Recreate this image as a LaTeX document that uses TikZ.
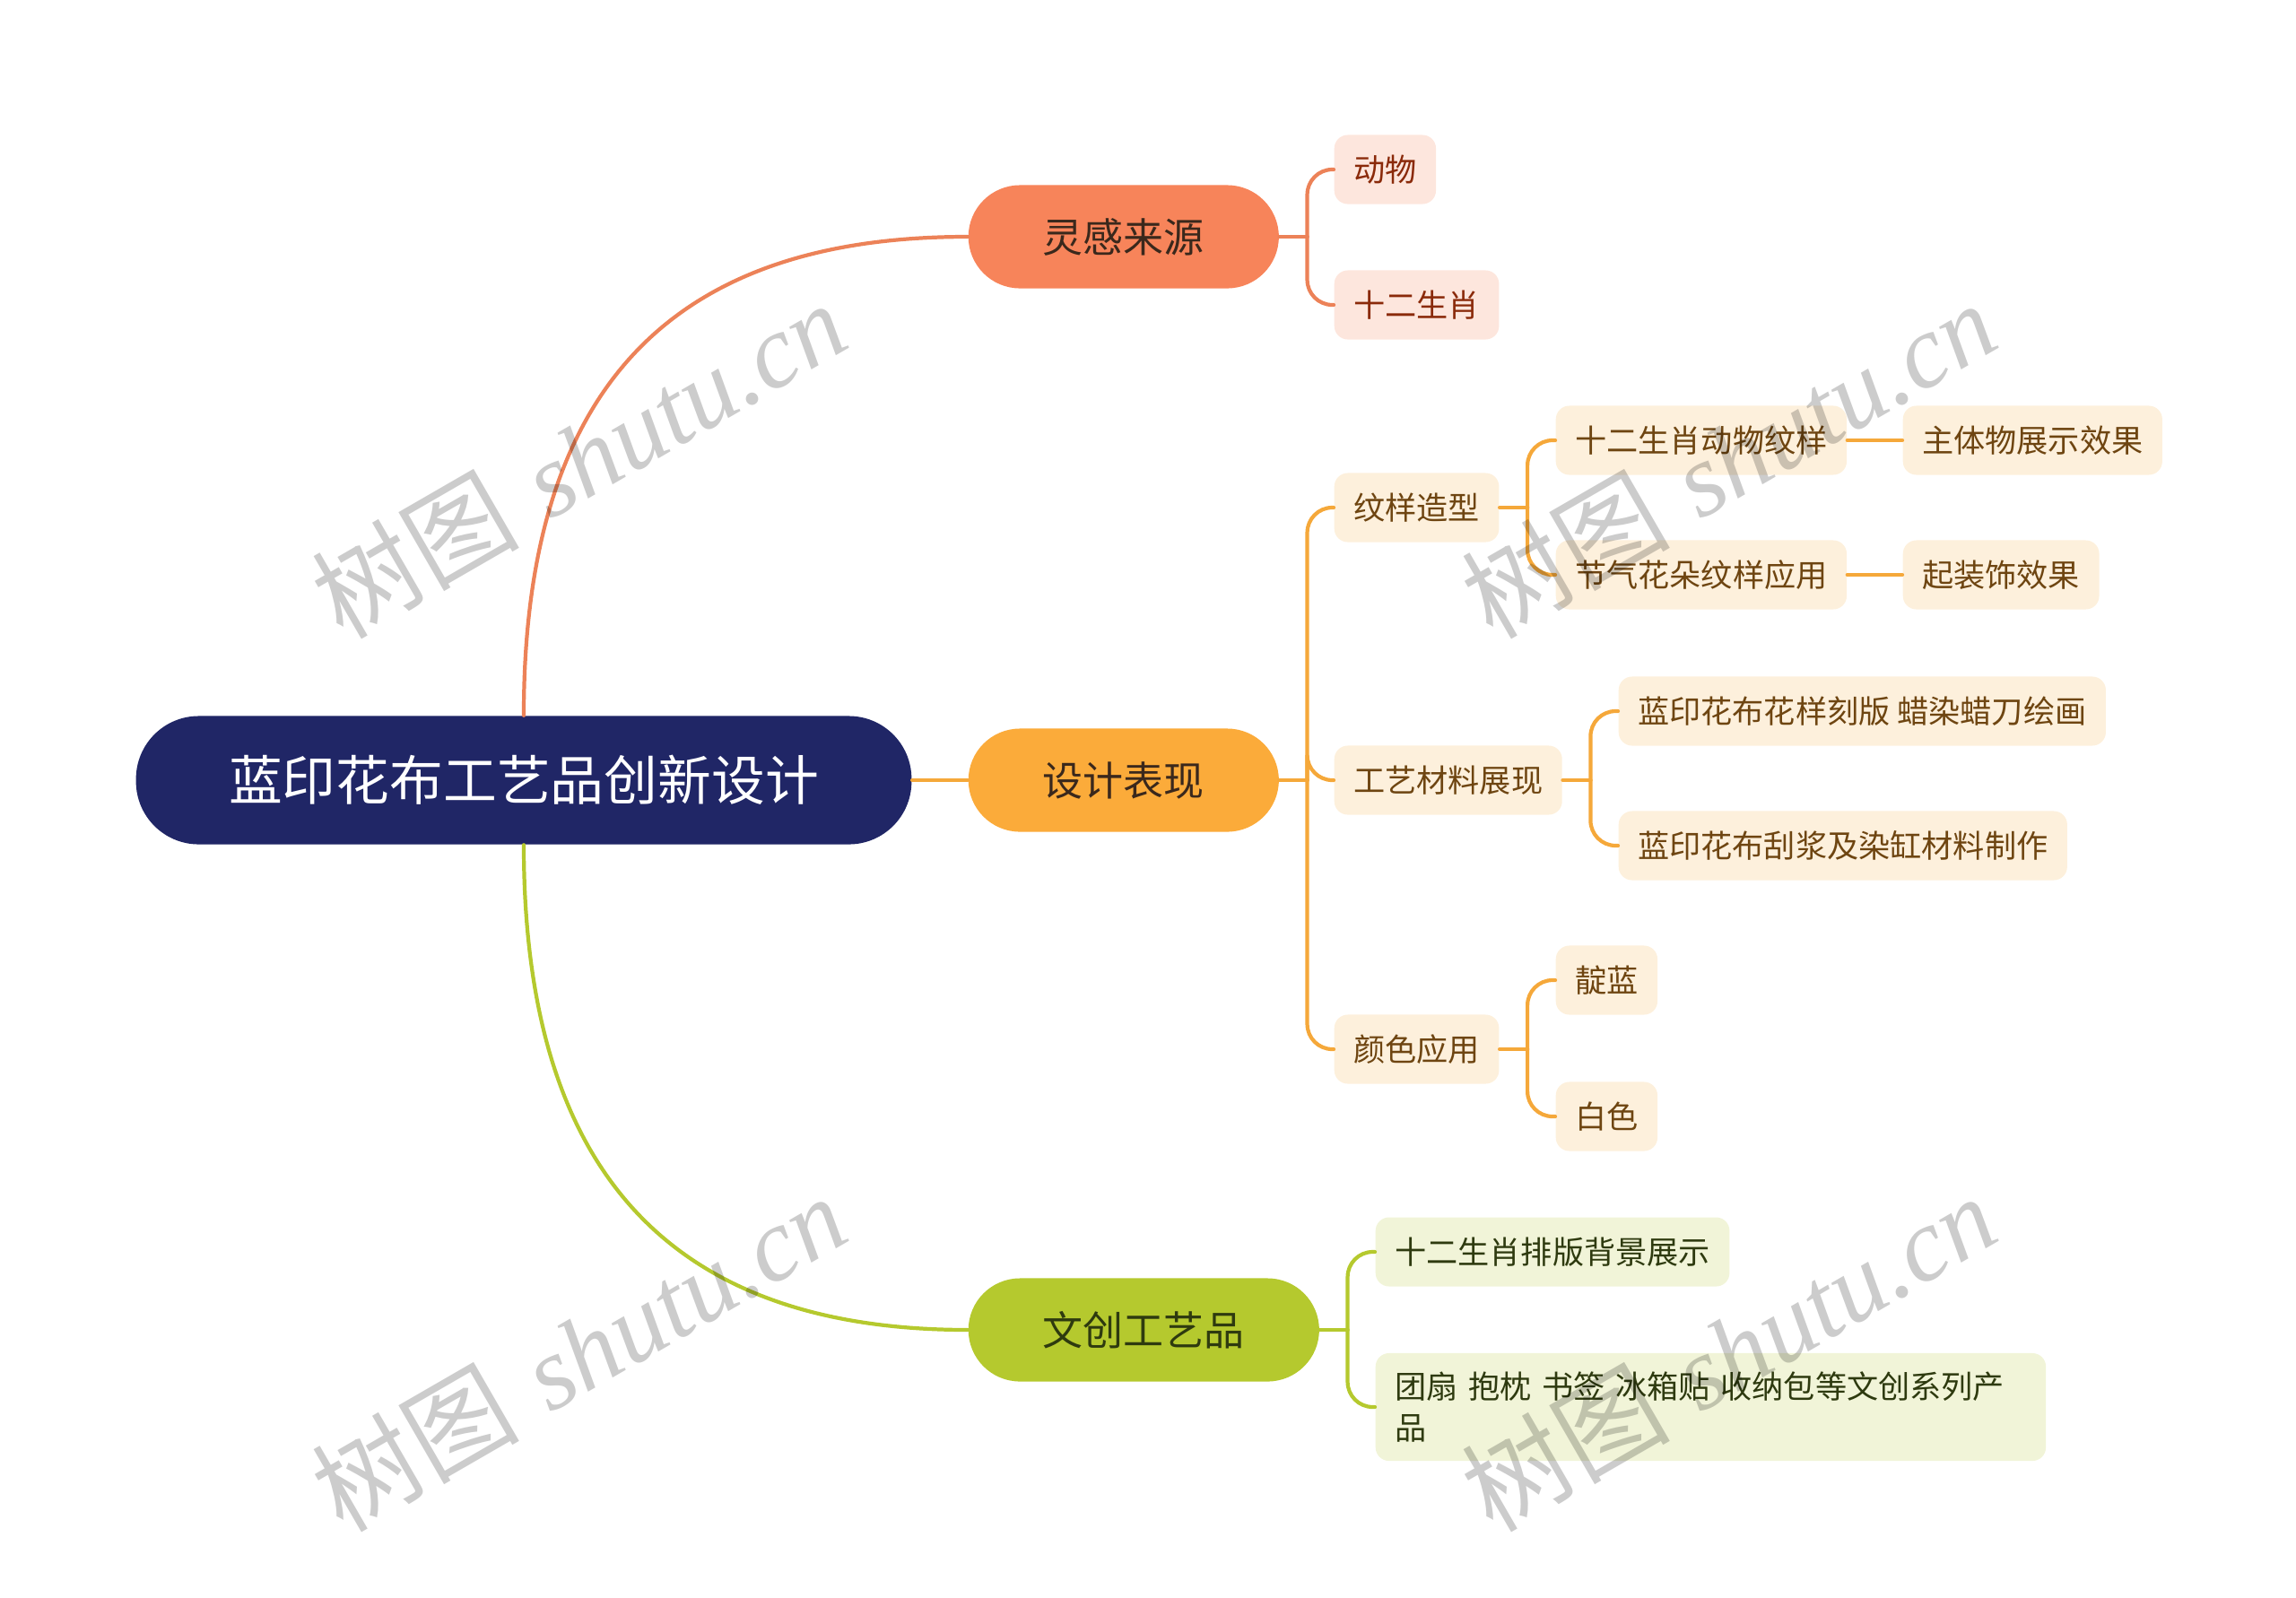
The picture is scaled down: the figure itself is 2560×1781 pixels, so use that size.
\documentclass[tikz,border=0pt]{standalone}
\usepackage{fontspec}
\usepackage{tikz}
\usetikzlibrary{positioning}
\newfontfamily\cjk{Noto Sans CJK SC}
\newfontfamily\markLatin{Liberation Serif}
\tikzstyle{mindmap} = [x = 0.01cm, y = -0.01cm]
\definecolor{rootColor}{RGB}{32,38,102}
\definecolor{coralColor}{RGB}{247,132,90}
\definecolor{coralLineColor}{RGB}{236,130,88}
\definecolor{coralLeafColor}{RGB}{253,230,221}
\definecolor{coralTextColor}{RGB}{138,42,10}
\definecolor{orangeColor}{RGB}{251,171,58}
\definecolor{orangeLineColor}{RGB}{245,168,58}
\definecolor{orangeLeafColor}{RGB}{253,240,220}
\definecolor{orangeTextColor}{RGB}{110,69,17}
\definecolor{greenColor}{RGB}{181,201,46}
\definecolor{greenLeafColor}{RGB}{241,244,216}
\definecolor{greenTextColor}{RGB}{46,58,15}
\definecolor{branchTextColor}{RGB}{58,40,28}
\tikzstyle{rootStyle} = [fill=rootColor, text=white, rounded corners=.7cm, minimum height=1.43cm, inner xsep=1.035cm, font=\cjk\fontsize{17}{20}\selectfont]
\tikzstyle{branchStyle} = [rounded corners=.575cm, minimum height=1.15cm, inner xsep=.83cm, text=branchTextColor, font=\cjk\fontsize{12.8}{15}\selectfont, anchor=west]
\tikzstyle{leafStyle} = [rounded corners=.15cm, minimum height=.77cm, inner xsep=.215cm, font=\cjk\fontsize{10}{13}\selectfont, anchor=west]
\tikzstyle{coralLeaf} = [leafStyle, fill=coralLeafColor, text=coralTextColor]
\tikzstyle{orangeLeaf} = [leafStyle, fill=orangeLeafColor, text=orangeTextColor]
\tikzstyle{greenLeaf} = [leafStyle, fill=greenLeafColor, text=greenTextColor]
\tikzstyle{linkLine} = [line width=1.2pt, line cap=round]
\tikzstyle{fanLine} = [linkLine, rounded corners=.28cm]
\tikzstyle{markText} = [text=black, text opacity=.2, rotate=30, font=\fontsize{33}{36}\selectfont]
\newcommand{\fanStub}[3]{\draw [linkLine, #3] (#1.east) -- ++(31,0) coordinate (#2);}
\newcommand{\fanLink}[3]{\draw [fanLine, #3] (#1) |- (#2.west);}
\newcommand{\siteMark}[3]{\node [markText] (#1) at (#2,#3) {{\cjk 树图} {\markLatin\itshape shutu.cn}};}

\begin{document}
\begin{tikzpicture}[mindmap]
  \useasboundingbox (0,0) rectangle (2560,1781);

  \node [rootStyle] (root) at (584,870) {蓝印花布工艺品创新设计};
  \node [branchStyle, fill=coralColor] (inspire) at (1079,264) {灵感来源};
  \node [branchStyle, fill=orangeColor] (design) at (1079,870) {设计表现};
  \node [branchStyle, fill=greenColor, text=greenTextColor] (craft) at (1079,1483) {文创工艺品};

  \node [coralLeaf] (animal) at (1487,189) {动物};
  \node [coralLeaf] (zodiac) at (1487,340) {十二生肖};

  \node [orangeLeaf] (pattern) at (1487,566) {纹样造型};
  \node [orangeLeaf] (material) at (1487,870) {工艺材料展现};
  \node [orangeLeaf] (colour) at (1487,1170) {颜色应用};
  \node [orangeLeaf] (zodiacPattern) at (1734,491) {十二生肖动物纹样};
  \node [orangeLeaf] (flowerPattern) at (1734,641) {节气花朵纹样应用};
  \node [orangeLeaf] (mainEffect) at (2121,491) {主体物展示效果};
  \node [orangeLeaf] (decoEffect) at (2121,641) {起装饰效果};
  \node [orangeLeaf] (carving) at (1804,793) {蓝印花布花样刻版 蜡染蜡刀绘画};
  \node [orangeLeaf] (dyeing) at (1804,943) {蓝印花布刮浆及染缸材料制作};
  \node [orangeLeaf] (indigo) at (1734,1093) {靛蓝};
  \node [orangeLeaf] (white) at (1734,1245) {白色};

  \node [greenLeaf] (layout) at (1533,1396) {十二生肖排版背景展示};
  \node [greenLeaf, text width=7.04cm, align=left, minimum height=1.2cm,
         font=\cjk\fontsize{10}{13}\selectfont] (products) at (1533,1569)
        {团扇 抱枕 书签 冰箱贴 收纳包等文创系列产\\品};

  \draw [linkLine, coralLineColor] (root.north) .. controls (584,420) and (760,264) .. (inspire.west);
  \draw [linkLine, orangeLineColor] (root.east) -- (design.west);
  \draw [linkLine, greenColor] (root.south) .. controls (584,1320) and (760,1483) .. (craft.west);

  \fanStub{inspire}{inspireJoint}{coralLineColor}
  \fanLink{inspireJoint}{animal}{coralLineColor}
  \fanLink{inspireJoint}{zodiac}{coralLineColor}

  \fanStub{design}{designJoint}{orangeLineColor}
  \fanLink{designJoint}{pattern}{orangeLineColor}
  \fanLink{designJoint}{material}{orangeLineColor}
  \fanLink{designJoint}{colour}{orangeLineColor}

  \fanStub{pattern}{patternJoint}{orangeLineColor}
  \fanLink{patternJoint}{zodiacPattern}{orangeLineColor}
  \fanLink{patternJoint}{flowerPattern}{orangeLineColor}
  \draw [linkLine, orangeLineColor] (zodiacPattern.east) -- (mainEffect.west);
  \draw [linkLine, orangeLineColor] (flowerPattern.east) -- (decoEffect.west);

  \fanStub{material}{materialJoint}{orangeLineColor}
  \fanLink{materialJoint}{carving}{orangeLineColor}
  \fanLink{materialJoint}{dyeing}{orangeLineColor}

  \fanStub{colour}{colourJoint}{orangeLineColor}
  \fanLink{colourJoint}{indigo}{orangeLineColor}
  \fanLink{colourJoint}{white}{orangeLineColor}

  \fanStub{craft}{craftJoint}{greenColor}
  \fanLink{craftJoint}{layout}{greenColor}
  \fanLink{craftJoint}{products}{greenColor}

  \siteMark{markA}{645}{512}
  \siteMark{markB}{1927}{512}
  \siteMark{markC}{645}{1508}
  \siteMark{markD}{1927}{1508}
\end{tikzpicture}
\end{document}
